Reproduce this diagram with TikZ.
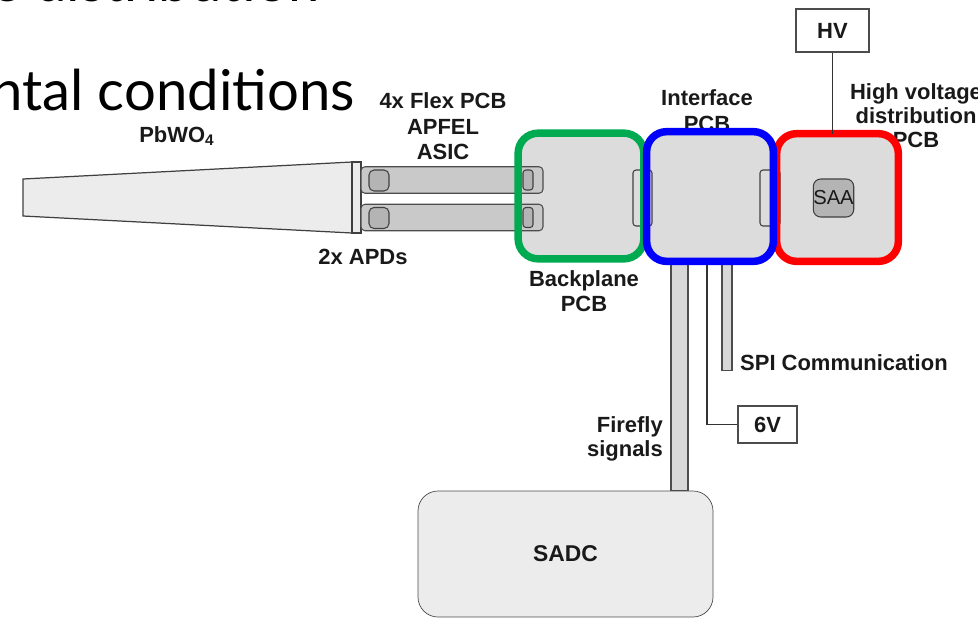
\documentclass[tikz,border=0pt]{standalone}
\usepackage{fontspec}
\setmainfont{Liberation Sans}
\newfontfamily\slidefont{Lato}
\usetikzlibrary{positioning,calc}
\definecolor{boardgray}{RGB}{220,220,220}
\definecolor{flexgray}{RGB}{201,201,201}
\definecolor{chipgray}{RGB}{180,180,180}
\definecolor{xtalgray}{RGB}{236,236,236}
\definecolor{cablegray}{RGB}{216,216,216}
\definecolor{framegreen}{RGB}{0,170,80}

\begin{document}
\begin{tikzpicture}[
    x=0.2mm, y=-0.2mm,
    board/.style={draw=black!70, fill=boardgray, rounded corners=4mm, inner sep=0pt},
    frame/.style={line width=1.5mm, rounded corners=4mm},
    flex/.style={draw=black!70, fill=flexgray, rounded corners=0.8mm, inner sep=0pt,
      minimum width=36.4mm, minimum height=5.3mm, line width=0.6pt},
    chip/.style={draw=black!75, fill=chipgray, rounded corners=1mm, inner sep=0pt,
      line width=0.6pt},
    pin/.style={draw=black!75, fill=boardgray, rounded corners=0.6mm, inner sep=0pt,
      line width=0.6pt},
    lbl/.style={font=\fontsize{12.5}{14.5}\selectfont\bfseries, align=center, text=black!90},
    vbox/.style={draw=black!70, fill=white, inner sep=0pt, line width=0.7pt,
      font=\fontsize{12.5}{14.5}\selectfont\bfseries, text=black!90},
    bar/.style={draw=black!70, fill=cablegray, line width=0.6pt},
    wire/.style={draw=black!80, line width=0.7pt},
  ]
  \path[use as bounding box, clip] (0,0) rectangle (978,618);

  % Slide text behind the sketch
  \node[font=\slidefont\fontsize{32}{36}\selectfont, anchor=base east, inner sep=0pt]
    (slideA) at (320,1) {e distribution};
  \node[font=\slidefont\fontsize{32}{36}\selectfont, anchor=base east, inner sep=0pt]
    (slideB) at (355,110) {ntal conditions};

  % Crystal
  \draw[draw=black!75, fill=xtalgray, line width=0.7pt]
    (23,179) -- (352,162) -- (352,233) -- (23,216) -- cycle;
  \draw[draw=black!75, fill=xtalgray, line width=0.7pt] (352,162) rectangle (361,233);

  % Boards
  \node[board, minimum width=25mm, minimum height=25mm] (bp) at (581,196) {};
  \node[board, minimum width=25.2mm, minimum height=25.8mm] (ifc) at (710,196.5) {};
  \node[board, minimum width=24.2mm, minimum height=25.4mm] (hvd) at (837.5,197.5) {};

  % Flex PCBs with APFEL and pins
  \node[flex] (flexA) at (452,180) {};
  \node[flex] (flexB) at (452,217.5) {};
  \node[chip, minimum width=4mm, minimum height=4.2mm] (apfelA) at (379,180.5) {};
  \node[chip, minimum width=4mm, minimum height=4.2mm] (apfelB) at (379,218) {};
  \node[pin, fill=chipgray, minimum width=2mm, minimum height=4mm] (pinA) at (528,180) {};
  \node[pin, fill=chipgray, minimum width=2mm, minimum height=4mm] (pinB) at (528,217.5) {};

  % Board connectors
  \node[pin, minimum width=3.8mm, minimum height=11.2mm] (conA) at (642.5,198) {};
  \node[pin, minimum width=4mm, minimum height=11.2mm] (conB) at (770,198) {};

  % SAA
  \node[chip, minimum width=7.4mm, minimum height=7.6mm, rounded corners=1.5mm,
        font=\fontsize{11.5}{13}\selectfont, text=black!90] (saa) at (833.5,198) {SAA};

  % SADC and cables
  \node[board, fill=xtalgray, minimum width=59mm, minimum height=25.2mm]
    (sadc) at (565.5,554) {};
  \node[lbl, font=\fontsize{13}{15}\selectfont\bfseries] (sadcTxt) at (sadc) {SADC};
  \coordinate (ffL) at ([xshift=-7.8mm]ifc.south);
  \coordinate (ffR) at ([xshift=-4.4mm]ifc.south);
  \draw[bar] (ffL) rectangle (ffR |- sadc.north);
  \coordinate (spiL) at ([xshift=2.4mm]ifc.south);
  \coordinate (spiEnd) at ([xshift=4.4mm, yshift=-21.8mm]ifc.south);
  \draw[bar] (spiL) rectangle (spiEnd);
  \node[vbox, minimum width=11.8mm, minimum height=7.4mm] (v6) at (767.5,424.5) {6V};
  \draw[wire] ([xshift=-0.6mm]ifc.south) |- (v6.west);

  % Labels
  \node[lbl] (pbwo) at (177,136) {PbWO\textsubscript{4}};
  \node[lbl] (flexTxt) at (443,126.5) {4x Flex PCB\\APFEL\\ASIC};
  \node[lbl] (apdTxt) at (363,257) {2x APDs};
  \node[lbl] (ifcTxt) at (707,110.5) {Interface\\PCB};
  \node[lbl, font=\fontsize{12.5}{13.6}\selectfont\bfseries] (hvdTxt) at (916,116)
    {High voltage\\distribution\\PCB};
  \node[lbl] (bpTxt) at (584,291) {Backplane\\PCB};
  \node[lbl, align=right, anchor=east, font=\fontsize{12.5}{13.6}\selectfont\bfseries]
    (ffTxt) at (669,439) {Firefly\\signals};
  \node[lbl, anchor=west] (spiTxt) at (734,363) {SPI Communication};

  % Coloured frames
  \draw[frame, framegreen] (bp.south west) rectangle (bp.north east);
  \draw[frame, red] (hvd.south west) rectangle (hvd.north east);
  \draw[frame, blue] (ifc.south west) rectangle (ifc.north east);

  % HV supply
  \node[vbox, minimum width=14.6mm, minimum height=8.6mm] (hv) at (832.5,30.5) {HV};
  \draw[wire] (hv.south) -- (hv.south |- hvd.north);

\end{tikzpicture}
\end{document}
